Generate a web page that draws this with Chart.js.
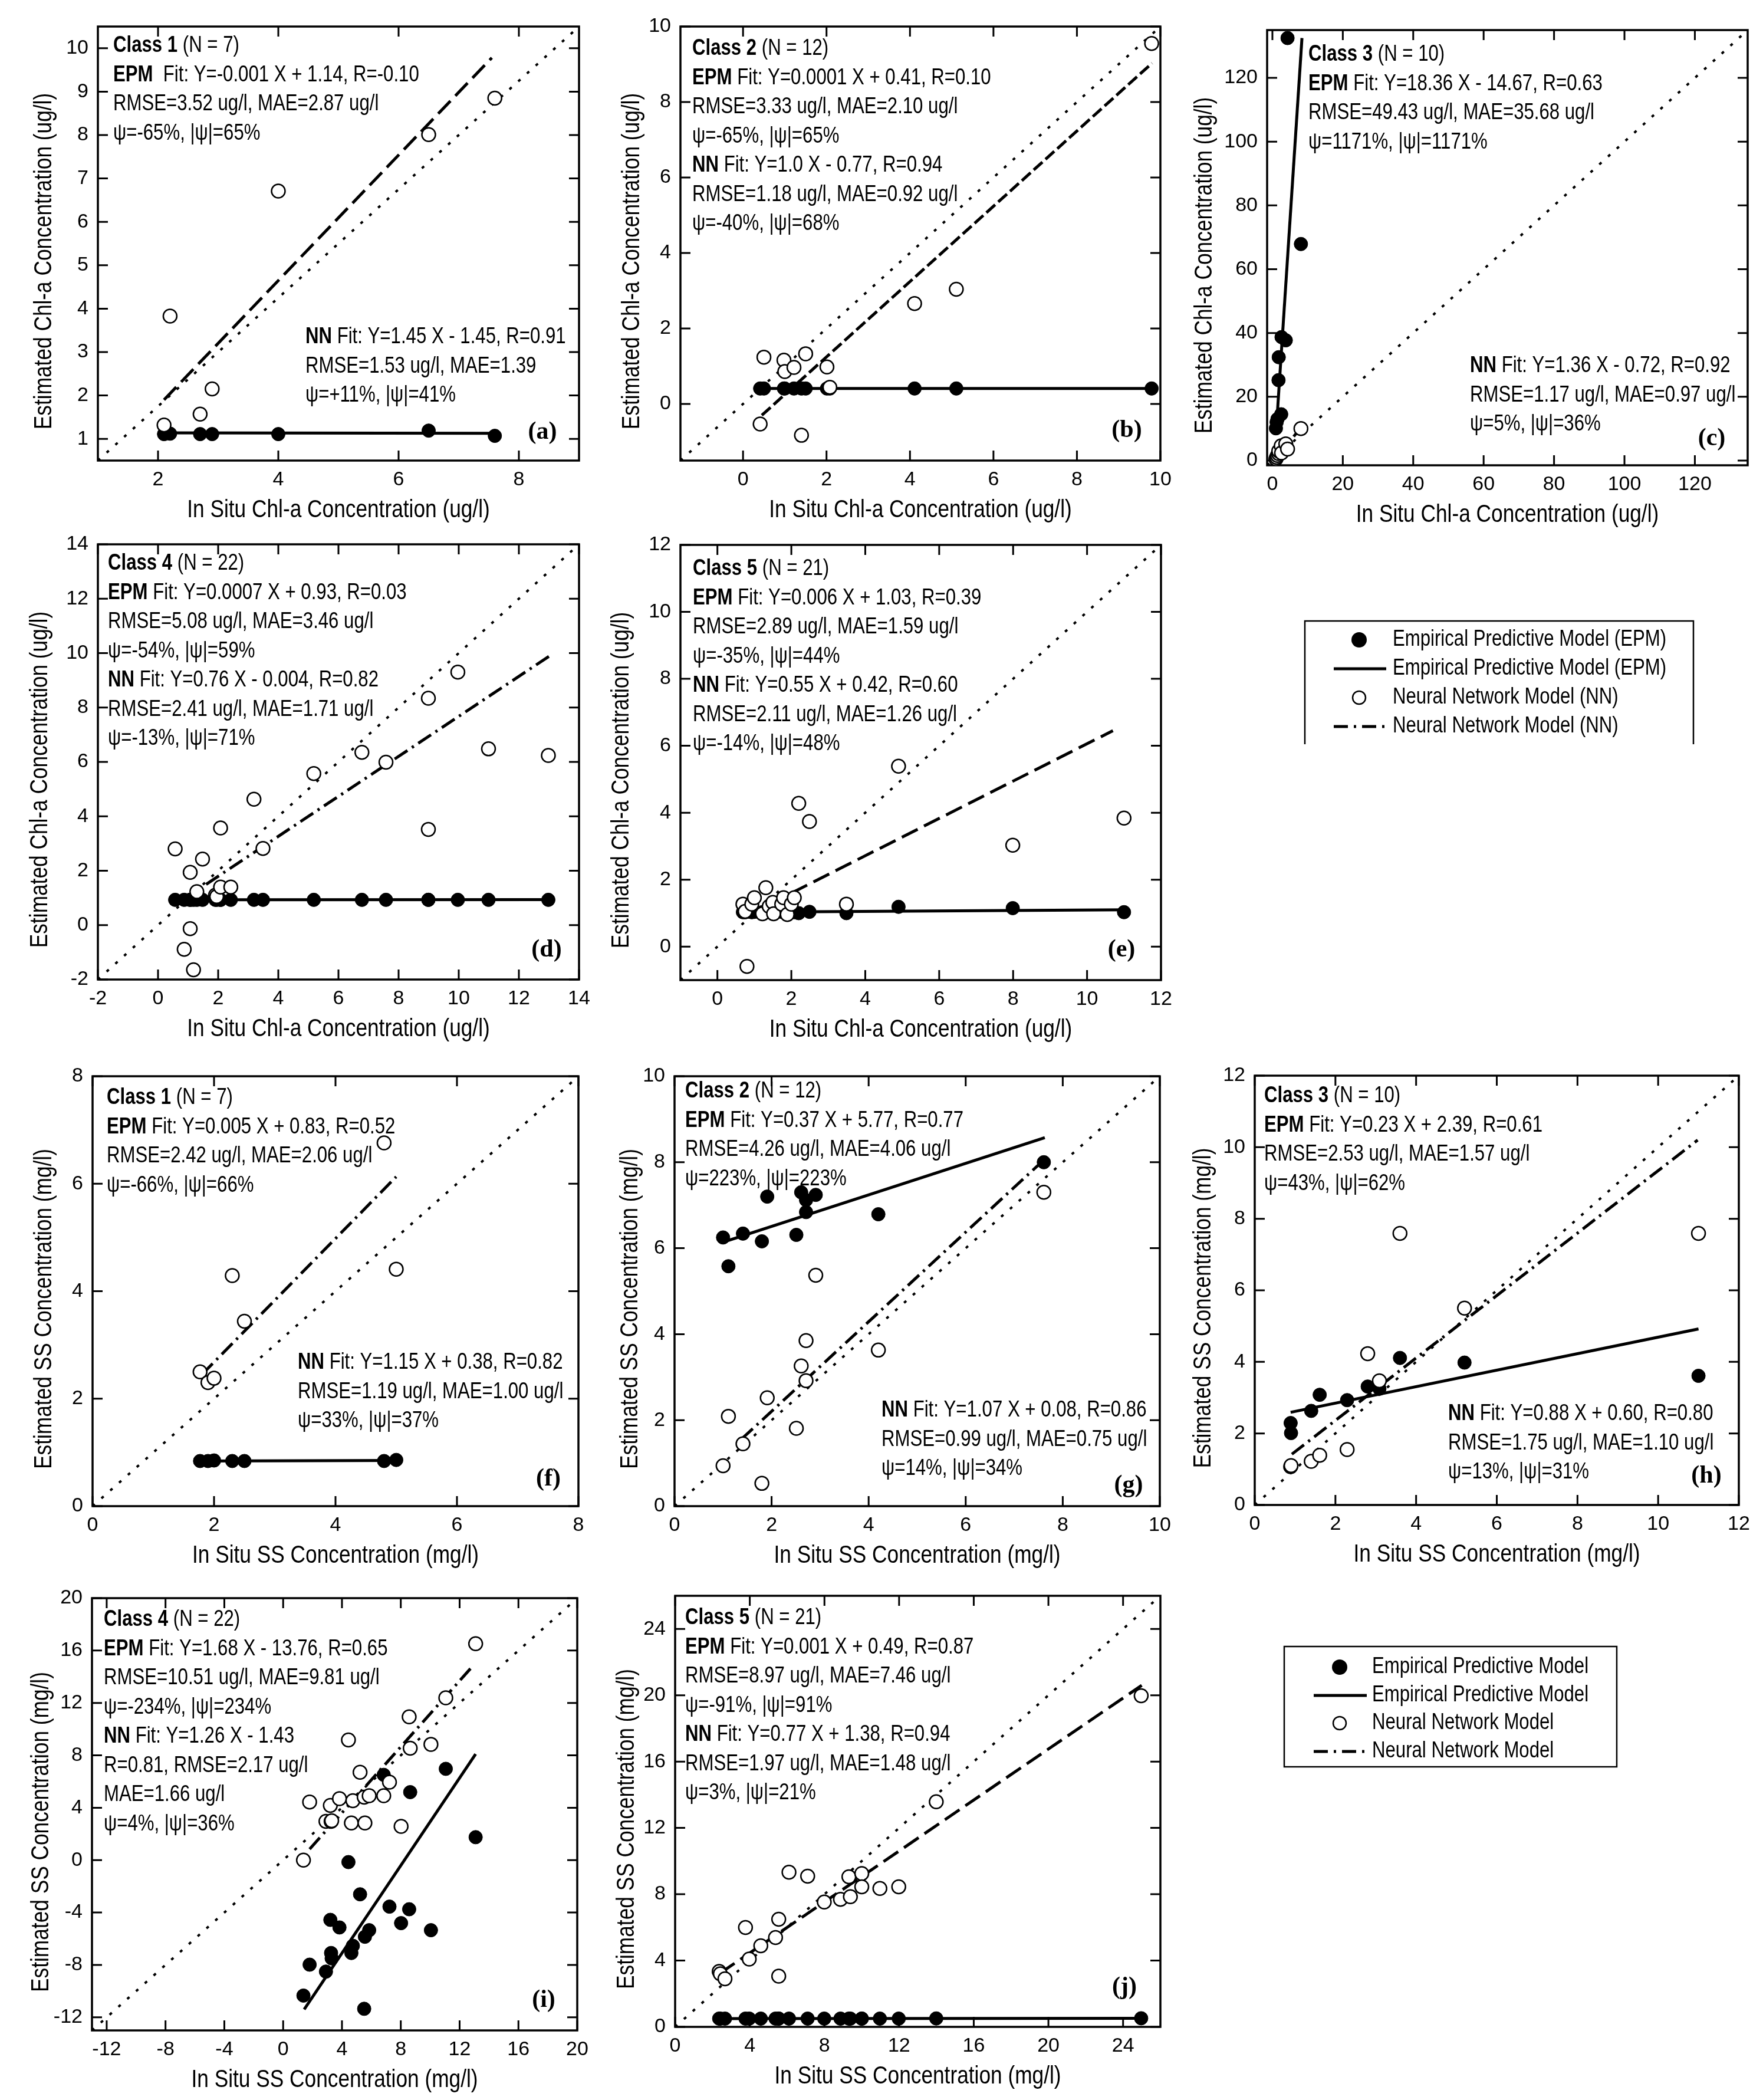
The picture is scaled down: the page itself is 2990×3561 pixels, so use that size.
<!DOCTYPE html>
<html>
<head>
<meta charset="utf-8">
<script src="https://cdn.jsdelivr.net/npm/chart.js@4.4.1/dist/chart.umd.min.js"></script>
<style>
html, body { margin: 0; padding: 0; background: #fff; }
body { width: 2990px; height: 3561px; position: relative; overflow: hidden; }
canvas { position: absolute; }
</style>
</head>
<body>
<script>
// ---- panel (a): Chl-a, class 1
const insituA = [2.1, 2.2, 2.7, 2.9, 4.0, 6.5, 7.6];
const epmA = [1.11, 1.12, 1.11, 1.11, 1.11, 1.19, 1.07];
const nnA = [1.32, 3.83, 1.57, 2.15, 6.71, 8.01, 8.85];
const epmFitA = [[2.1, 1.14], [7.6, 1.13]];
const nnFitA = [[2.1, 1.9], [7.55, 9.78]];
const xTicksA = [2, 4, 6, 8];
const yTicksA = [1, 2, 3, 4, 5, 6, 7, 8, 9, 10];

// ---- panel (b): Chl-a, class 2
const insituB = [0.41, 0.5, 0.98, 1.0, 1.22, 1.4, 1.5, 2.01, 2.08, 4.11, 5.11, 9.79];
const epmB = [0.41, 0.41, 0.41, 0.41, 0.41, 0.41, 0.41, 0.41, 0.41, 0.41, 0.41, 0.41];
const nnB = [-0.53, 1.24, 1.16, 0.86, 0.97, -0.83, 1.33, 0.98, 0.44, 2.66, 3.04, 9.55];
const epmFitB = [[0.41, 0.41], [9.8, 0.41]];
const nnFitB = [[0.45, -0.3], [9.8, 9.03]];
const ticksB = [0, 2, 4, 6, 8, 10];

// ---- panel (c): Chl-a, class 3
const insituC = [1.0, 1.2, 1.44, 1.74, 1.8, 2.5, 2.6, 3.8, 4.3, 8.1];
const epmC = [10.1, 12.0, 13.0, 25.2, 32.4, 14.5, 38.7, 37.7, 132.5, 67.9];
const nnC = [0.5, 1.0, 1.6, 2.2, 3.0, 4.6, 2.4, 5.2, 3.6, 10.0];
const epmFitC = [[1.0, 8.0], [8.4, 132.5]];
const nnFitC = [[1.0, 0.6], [8.0, 10.2]];
const ticksC = [0, 20, 40, 60, 80, 100, 120];

// ---- panel (d): Chl-a, class 4
const insituD = [0.57, 0.87, 1.07, 1.07, 1.18, 1.29, 1.48, 1.91, 1.95, 2.08, 2.08, 2.42, 3.19, 3.49, 5.18, 6.78, 7.58, 8.99, 8.99, 9.97, 10.99, 12.98];
const epmD = [0.93, 0.93, 0.93, 0.93, 0.93, 0.93, 0.93, 0.93, 0.93, 0.93, 0.93, 0.93, 0.93, 0.93, 0.93, 0.93, 0.93, 0.93, 0.93, 0.93, 0.93, 0.93];
const nnD = [2.8, -0.89, 1.94, -0.13, -1.64, 1.23, 2.43, 1.1, 1.05, 3.57, 1.4, 1.4, 4.63, 2.82, 5.57, 6.35, 5.99, 3.52, 8.34, 9.3, 6.48, 6.24];
const epmFitD = [[0.56, 0.93], [12.98, 0.94]];
const nnFitD = [[1.6, 1.5], [13.0, 9.88]];
const ticksD = [-2, 0, 2, 4, 6, 8, 10, 12, 14];

// ---- panel (e): Chl-a, class 5
const insituE = [0.69, 0.75, 0.8, 0.93, 1.0, 1.22, 1.31, 1.4, 1.5, 1.52, 1.74, 1.79, 1.89, 2.0, 2.08, 2.2, 2.49, 3.49, 4.9, 7.99, 11.0];
const epmE = [1.03, 1.03, 1.04, 1.03, 1.04, 1.03, 1.04, 1.03, 1.04, 1.03, 1.04, 1.03, 1.03, 1.04, 1.03, 1.0, 1.04, 1.0, 1.19, 1.15, 1.03];
const nnE = [1.27, 1.05, -0.59, 1.27, 1.46, 0.98, 1.76, 1.2, 1.32, 0.98, 1.27, 1.46, 0.96, 1.27, 1.46, 4.28, 3.74, 1.27, 5.39, 3.03, 3.84];
const epmFitE = [[0.69, 1.03], [11.0, 1.1]];
const nnFitE = [[2.0, 1.6], [10.7, 6.45]];
const ticksE = [0, 2, 4, 6, 8, 10, 12];

// ---- panel (f): SS, class 1
const insituF = [1.77, 1.9, 2.0, 2.3, 2.5, 4.8, 5.0];
const epmF = [0.84, 0.84, 0.85, 0.84, 0.84, 0.84, 0.86];
const nnF = [2.5, 2.3, 2.38, 4.29, 3.44, 6.76, 4.41];
const epmFitF = [[1.77, 0.84], [5.0, 0.85]];
const nnFitF = [[1.8, 2.45], [5.0, 6.13]];
const ticksF = [0, 2, 4, 6, 8];

// ---- panel (g): SS, class 2
const insituG = [1.0, 1.11, 1.41, 1.8, 1.91, 2.51, 2.61, 2.71, 2.71, 2.91, 4.2, 7.61];
const epmG = [6.25, 5.58, 6.34, 6.16, 7.2, 6.31, 7.3, 7.12, 6.84, 7.24, 6.79, 8.0];
const nnG = [0.94, 2.09, 1.45, 0.53, 2.52, 1.81, 3.26, 3.85, 2.92, 5.37, 3.63, 7.3];
const epmFitG = [[1.0, 6.14], [7.63, 8.57]];
const nnFitG = [[1.38, 1.56], [7.56, 8.0]];
const ticksG = [0, 2, 4, 6, 8, 10];

// ---- panel (h): SS, class 3
const insituH = [0.89, 0.9, 1.4, 1.61, 2.29, 2.8, 3.09, 3.6, 5.2, 11.0];
const epmH = [2.29, 2.01, 2.63, 3.08, 2.93, 3.31, 3.25, 4.11, 3.98, 3.61];
const nnH = [1.07, 1.1, 1.22, 1.39, 1.55, 4.23, 3.47, 7.59, 5.5, 7.59];
const epmFitH = [[0.89, 2.59], [11.0, 4.92]];
const nnFitH = [[0.92, 1.42], [10.98, 10.2]];
const ticksH = [0, 2, 4, 6, 8, 10, 12];

// ---- panel (i): SS, class 4
const insituI = [1.38, 1.8, 2.91, 3.21, 3.26, 3.3, 3.83, 4.44, 4.64, 4.74, 5.23, 5.51, 5.56, 5.85, 6.84, 7.23, 8.02, 8.57, 8.64, 10.05, 11.06, 13.09];
const epmI = [-10.34, -7.98, -8.51, -4.56, -7.09, -7.5, -5.14, -0.15, -7.09, -6.54, -2.61, -11.35, -5.85, -5.35, 6.51, -3.55, -4.81, -3.75, 5.19, -5.35, 6.97, 1.75];
const nnI = [0.0, 4.43, 2.96, 4.18, 2.96, 3.0, 4.69, 9.17, 2.84, 4.54, 6.71, 4.81, 2.84, 4.92, 4.92, 5.95, 2.58, 10.94, 8.54, 8.84, 12.39, 16.52];
const epmFitI = [[1.43, -11.4], [13.09, 8.1]];
const nnFitI = [[1.8, 0.84], [12.96, 14.9]];
const ticksI = [-12, -8, -4, 0, 4, 8, 12, 16, 20];

// ---- panel (j): SS, class 5
const insituJ = [2.36, 2.42, 2.67, 3.77, 3.97, 4.59, 5.38, 5.55, 5.55, 6.1, 7.1, 7.99, 8.86, 9.31, 9.39, 10.0, 10.0, 10.97, 11.98, 13.99, 24.97];
const epmJ = [0.5, 0.5, 0.5, 0.5, 0.5, 0.5, 0.5, 0.5, 0.5, 0.5, 0.5, 0.5, 0.5, 0.5, 0.5, 0.5, 0.5, 0.5, 0.5, 0.51, 0.52];
const nnJ = [3.34, 3.2, 2.9, 5.99, 4.09, 4.89, 5.39, 6.49, 3.06, 9.33, 9.09, 7.53, 7.69, 9.05, 7.85, 9.25, 8.45, 8.35, 8.45, 13.58, 19.97];
const epmFitJ = [[2.36, 0.5], [24.97, 0.52]];
const nnFitJ = [[2.4, 3.23], [25.0, 20.6]];
const ticksJ = [0, 4, 8, 12, 16, 20, 24];

const CHL_X = 'In Situ Chl-a Concentration (ug/l)';
const CHL_Y = 'Estimated Chl-a Concentration (ug/l)';
const SS_X = 'In Situ SS Concentration (mg/l)';
const SS_Y = 'Estimated SS Concentration (mg/l)';

// font: narrow face if present, otherwise squeeze the regular one
function fontExists(name) {
  const c = document.createElement('canvas').getContext('2d');
  const probe = 'mmmmmmmmmmlliiWW0123456789';
  c.font = '40px monospace';
  const a = c.measureText(probe).width;
  c.font = '40px "' + name + '", monospace';
  return c.measureText(probe).width !== a;
}
const NARROW = fontExists('Liberation Sans Narrow');
const FAMILY = NARROW ? '"Liberation Sans Narrow", "Liberation Sans", sans-serif' : '"Liberation Sans", Arial, sans-serif';
const SQUEEZE = NARROW ? 1 : 0.82;
const TICK_SIZE = NARROW ? 38 : 34;

const ML = 150, MR = 45, MT = 45, MB = 135;
const LS = 49.5, TICK = 17, R = 11.5;
const LONG = [30, 12], DASH = [20, 7], DASHDOT = [26, 9, 4, 9], DOTS = [5, 15];

const panels = [
  { tag: '(a)', box: [166, 45, 982, 781], x: [1, 9], y: [0.5, 10.5], xt: xTicksA, yt: yTicksA,
    insitu: insituA, epm: epmA, nn: nnA, epmFit: epmFitA, nnFit: nnFitA, dash: LONG,
    xTitle: CHL_X, yTitle: CHL_Y, yOff: 91, tagPos: [920, 733],
    text: [{ x: 192, y: 78, lines: ['**Class 1** (N = 7)', '**EPM**  Fit: Y=-0.001 X + 1.14, R=-0.10', 'RMSE=3.52 ug/l, MAE=2.87 ug/l', 'ψ=-65%, |ψ|=65%'] },
           { x: 518, y: 572, lines: ['**NN** Fit: Y=1.45 X - 1.45, R=0.91', 'RMSE=1.53 ug/l, MAE=1.39', 'ψ=+11%, |ψ|=41%'] }] },
  { tag: '(b)', box: [1154, 45, 1968, 781], x: [-1.5, 10], y: [-1.5, 10], xt: ticksB, yt: ticksB,
    insitu: insituB, epm: epmB, nn: nnB, epmFit: epmFitB, nnFit: nnFitB, dash: DASH,
    xTitle: CHL_X, yTitle: CHL_Y, yOff: 82, tagPos: [1911, 730],
    text: [{ x: 1174, y: 83, lines: ['**Class 2** (N = 12)', '**EPM** Fit: Y=0.0001 X + 0.41, R=0.10', 'RMSE=3.33 ug/l, MAE=2.10 ug/l', 'ψ=-65%, |ψ|=65%',
      '**NN** Fit: Y=1.0 X - 0.77, R=0.94', 'RMSE=1.18 ug/l, MAE=0.92 ug/l', 'ψ=-40%, |ψ|=68%'] }] },
  { tag: '(c)', box: [2149, 51, 2964, 789], x: [-1.5, 135], y: [-1.5, 135], xt: ticksC, yt: ticksC,
    insitu: insituC, epm: epmC, nn: nnC, epmFit: epmFitC, nnFit: nnFitC, dash: DASHDOT,
    xTitle: CHL_X, yTitle: CHL_Y, yOff: 106, tagPos: [2903, 744],
    text: [{ x: 2219, y: 93, lines: ['**Class 3** (N = 10)', '**EPM** Fit: Y=18.36 X - 14.67, R=0.63', 'RMSE=49.43 ug/l, MAE=35.68 ug/l', 'ψ=1171%, |ψ|=1171%'] },
           { x: 2493, y: 621, lines: ['**NN** Fit: Y=1.36 X - 0.72, R=0.92', 'RMSE=1.17 ug/l, MAE=0.97 ug/l', 'ψ=5%, |ψ|=36%'] }] },
  { tag: '(d)', box: [166, 923, 982, 1661], x: [-2, 14], y: [-2, 14], xt: ticksD, yt: ticksD,
    insitu: insituD, epm: epmD, nn: nnD, epmFit: epmFitD, nnFit: nnFitD, dash: DASHDOT,
    xTitle: CHL_X, yTitle: CHL_Y, yOff: 98, tagPos: [927, 1611],
    text: [{ x: 183, y: 956, lines: ['**Class 4** (N = 22)', '**EPM** Fit: Y=0.0007 X + 0.93, R=0.03', 'RMSE=5.08 ug/l, MAE=3.46 ug/l', 'ψ=-54%, |ψ|=59%',
      '**NN** Fit: Y=0.76 X - 0.004, R=0.82', 'RMSE=2.41 ug/l, MAE=1.71 ug/l', 'ψ=-13%, |ψ|=71%'] }] },
  { tag: '(e)', box: [1154, 924, 1969, 1662], x: [-1, 12], y: [-1, 12], xt: ticksE, yt: ticksE,
    insitu: insituE, epm: epmE, nn: nnE, epmFit: epmFitE, nnFit: nnFitE, dash: LONG,
    xTitle: CHL_X, yTitle: CHL_Y, yOff: 100, tagPos: [1902, 1611],
    text: [{ x: 1175, y: 965, lines: ['**Class 5** (N = 21)', '**EPM** Fit: Y=0.006 X + 1.03, R=0.39', 'RMSE=2.89 ug/l, MAE=1.59 ug/l', 'ψ=-35%, |ψ|=44%',
      '**NN** Fit: Y=0.55 X + 0.42, R=0.60', 'RMSE=2.11 ug/l, MAE=1.26 ug/l', 'ψ=-14%, |ψ|=48%'] }] },
  { tag: '(f)', box: [157, 1825, 981, 2554], x: [0, 8], y: [0, 8], xt: ticksF, yt: ticksF,
    insitu: insituF, epm: epmF, nn: nnF, epmFit: epmFitF, nnFit: nnFitF, dash: DASHDOT,
    xTitle: SS_X, yTitle: SS_Y, yOff: 82, tagPos: [930, 2508],
    text: [{ x: 181, y: 1862, lines: ['**Class 1** (N = 7)', '**EPM** Fit: Y=0.005 X + 0.83, R=0.52', 'RMSE=2.42 ug/l, MAE=2.06 ug/l', 'ψ=-66%, |ψ|=66%'] },
           { x: 505, y: 2311, lines: ['**NN** Fit: Y=1.15 X + 0.38, R=0.82', 'RMSE=1.19 ug/l, MAE=1.00 ug/l', 'ψ=33%, |ψ|=37%'] }] },
  { tag: '(g)', box: [1144, 1825, 1967, 2554], x: [0, 10], y: [0, 10], xt: ticksG, yt: ticksG,
    insitu: insituG, epm: epmG, nn: nnG, epmFit: epmFitG, nnFit: nnFitG, dash: DASHDOT,
    xTitle: SS_X, yTitle: SS_Y, yOff: 75, tagPos: [1914, 2519],
    text: [{ x: 1162, y: 1851, lines: ['**Class 2** (N = 12)', '**EPM** Fit: Y=0.37 X + 5.77, R=0.77', 'RMSE=4.26 ug/l, MAE=4.06 ug/l', 'ψ=223%, |ψ|=223%'] },
           { x: 1495, y: 2392, lines: ['**NN** Fit: Y=1.07 X + 0.08, R=0.86', 'RMSE=0.99 ug/l, MAE=0.75 ug/l', 'ψ=14%, |ψ|=34%'] }] },
  { tag: '(h)', box: [2128, 1824, 2949, 2552], x: [0, 12], y: [0, 12], xt: ticksH, yt: ticksH,
    insitu: insituH, epm: epmH, nn: nnH, epmFit: epmFitH, nnFit: nnFitH, dash: DASHDOT,
    xTitle: SS_X, yTitle: SS_Y, yOff: 87, tagPos: [2894, 2503],
    text: [{ x: 2144, y: 1859, lines: ['**Class 3** (N = 10)', '**EPM** Fit: Y=0.23 X + 2.39, R=0.61', 'RMSE=2.53 ug/l, MAE=1.57 ug/l', 'ψ=43%, |ψ|=62%'] },
           { x: 2456, y: 2398, lines: ['**NN** Fit: Y=0.88 X + 0.60, R=0.80', 'RMSE=1.75 ug/l, MAE=1.10 ug/l', 'ψ=13%, |ψ|=31%'] }] },
  { tag: '(i)', box: [156, 2710, 979, 3443], x: [-13, 20], y: [-13, 20], xt: ticksI, yt: ticksI,
    insitu: insituI, epm: epmI, nn: nnI, epmFit: epmFitI, nnFit: nnFitI, dash: DASHDOT,
    xTitle: SS_X, yTitle: SS_Y, yOff: 86, tagPos: [922, 3392],
    text: [{ x: 176, y: 2747, lines: ['**Class 4** (N = 22)', '**EPM** Fit: Y=1.68 X - 13.76, R=0.65', 'RMSE=10.51 ug/l, MAE=9.81 ug/l', 'ψ=-234%, |ψ|=234%',
      '**NN** Fit: Y=1.26 X - 1.43', 'R=0.81, RMSE=2.17 ug/l', 'MAE=1.66 ug/l', 'ψ=4%, |ψ|=36%'] }] },
  { tag: '(j)', box: [1145, 2706, 1968, 3437], x: [0, 26], y: [0, 26], xt: ticksJ, yt: ticksJ,
    insitu: insituJ, epm: epmJ, nn: nnJ, epmFit: epmFitJ, nnFit: nnFitJ, dash: LONG,
    xTitle: SS_X, yTitle: SS_Y, yOff: 82, tagPos: [1907, 3370],
    text: [{ x: 1162, y: 2744, lines: ['**Class 5** (N = 21)', '**EPM** Fit: Y=0.001 X + 0.49, R=0.87', 'RMSE=8.97 ug/l, MAE=7.46 ug/l', 'ψ=-91%, |ψ|=91%',
      '**NN** Fit: Y=0.77 X + 1.38, R=0.94', 'RMSE=1.97 ug/l, MAE=1.48 ug/l', 'ψ=3%, |ψ|=21%'] }] }
];

// text helpers (the source figure uses a condensed sans)
function drawRich(ctx, line, x, y, size) {
  const parts = line.split('**');
  ctx.save();
  ctx.translate(x, y);
  ctx.scale(SQUEEZE, 1);
  ctx.fillStyle = '#000';
  ctx.textBaseline = 'middle';
  ctx.textAlign = 'left';
  let cx = 0;
  parts.forEach((s, i) => {
    if (!s) return;
    ctx.font = (i % 2 ? 'bold ' : '') + size + 'px ' + FAMILY;
    ctx.fillText(s, cx, 0);
    cx += ctx.measureText(s).width;
  });
  ctx.restore();
}

function drawCentered(ctx, str, x, y, size, angle) {
  ctx.save();
  ctx.translate(x, y);
  ctx.rotate(angle);
  ctx.scale(SQUEEZE, 1);
  ctx.fillStyle = '#000';
  ctx.font = size + 'px ' + FAMILY;
  ctx.textAlign = 'center';
  ctx.textBaseline = 'middle';
  ctx.fillText(str, 0, 0);
  ctx.restore();
}

function framePlugin(p) {
  return {
    id: 'frame',
    beforeDatasetsDraw(chart) {
      const { ctx, chartArea: a, scales } = chart;
      ctx.save();
      ctx.strokeStyle = '#000';
      ctx.lineWidth = 3.5;
      ctx.strokeRect(a.left, a.top, a.right - a.left, a.bottom - a.top);
      ctx.lineWidth = 3;
      ctx.beginPath();
      scales.x.ticks.forEach(t => {
        const px = scales.x.getPixelForValue(t.value);
        ctx.moveTo(px, a.bottom); ctx.lineTo(px, a.bottom - TICK);
        ctx.moveTo(px, a.top); ctx.lineTo(px, a.top + TICK);
      });
      scales.y.ticks.forEach(t => {
        const py = scales.y.getPixelForValue(t.value);
        ctx.moveTo(a.left, py); ctx.lineTo(a.left + TICK, py);
        ctx.moveTo(a.right, py); ctx.lineTo(a.right - TICK, py);
      });
      ctx.stroke();
      ctx.restore();
    },
    afterDatasetsDraw(chart) {
      const { ctx, chartArea: a } = chart;
      const ox = p.box[0] - ML, oy = p.box[1] - MT;
      p.text.forEach(b => b.lines.forEach((ln, i) => drawRich(ctx, ln, b.x - ox, b.y - oy + i * LS, 38)));
      drawCentered(ctx, p.xTitle, (a.left + a.right) / 2, a.bottom + 84, 43, 0);
      drawCentered(ctx, p.yTitle, a.left - p.yOff, (a.top + a.bottom) / 2 + 30, 43, -Math.PI / 2);
      ctx.save();
      ctx.fillStyle = '#000';
      ctx.font = 'bold 42px "Liberation Serif", "Times New Roman", serif';
      ctx.textAlign = 'center';
      ctx.textBaseline = 'middle';
      ctx.fillText(p.tag, p.tagPos[0] - ox, p.tagPos[1] - oy);
      ctx.restore();
    }
  };
}

const toPoints = (xs, ys) => xs.map((v, i) => ({ x: v, y: ys[i] }));
const toSegment = seg => seg.map(q => ({ x: q[0], y: q[1] }));

function axis(range, ticks, isX) {
  return {
    type: 'linear',
    position: isX ? 'bottom' : 'left',
    min: range[0],
    max: range[1],
    bounds: 'data',
    grid: { display: false, drawTicks: false },
    border: { display: false },
    ticks: {
      color: '#000',
      font: { family: FAMILY, size: TICK_SIZE },
      padding: isX ? 12 : 16,
      autoSkip: false,
      maxRotation: 0,
      callback: v => String(v)
    },
    afterBuildTicks: s => { s.ticks = ticks.map(v => ({ value: v })); },
    afterFit: s => { if (isX) s.height = MB; else s.width = ML; }
  };
}

panels.forEach(p => {
  const [L, T, Rt, B] = p.box;
  const cv = document.createElement('canvas');
  const w = Rt - L + ML + MR, h = B - T + MT + MB;
  cv.width = w; cv.height = h;
  cv.style.left = (L - ML) + 'px';
  cv.style.top = (T - MT) + 'px';
  cv.style.width = w + 'px';
  cv.style.height = h + 'px';
  document.body.appendChild(cv);

  new Chart(cv, {
    type: 'scatter',
    data: {
      datasets: [
        { label: 'NN', data: toPoints(p.insitu, p.nn), pointRadius: R, pointHoverRadius: R,
          pointBackgroundColor: '#fff', pointBorderColor: '#000', pointBorderWidth: 2.5 },
        { label: 'EPM', data: toPoints(p.insitu, p.epm), pointRadius: R, pointHoverRadius: R,
          pointBackgroundColor: '#000', pointBorderColor: '#000', pointBorderWidth: 1 },
        { label: 'NN fit', data: toSegment(p.nnFit), showLine: true, pointRadius: 0,
          borderColor: '#000', borderWidth: 5, borderDash: p.dash },
        { label: 'EPM fit', data: toSegment(p.epmFit), showLine: true, pointRadius: 0,
          borderColor: '#000', borderWidth: 5 },
        { label: '1:1', data: [{ x: p.x[0], y: p.y[0] }, { x: p.x[1], y: p.y[1] }], showLine: true, pointRadius: 0,
          borderColor: '#000', borderWidth: 4, borderDash: DOTS }
      ]
    },
    options: {
      responsive: false,
      animation: false,
      devicePixelRatio: 1,
      events: [],
      layout: { padding: { left: 0, top: MT, right: MR, bottom: 0 } },
      plugins: { legend: { display: false }, tooltip: { enabled: false } },
      scales: { x: axis(p.x, p.xt, true), y: axis(p.y, p.yt, false) }
    },
    plugins: [framePlugin(p)]
  });
});

// ---- the two free-standing legend boxes
const legendChl = ['Empirical Predictive Model (EPM)', 'Empirical Predictive Model (EPM)', 'Neural Network Model (NN)', 'Neural Network Model (NN)'];
const legendSS = ['Empirical Predictive Model', 'Empirical Predictive Model', 'Neural Network Model', 'Neural Network Model'];

function drawLegend(labels, box, rows, symX, lineX, textX, closed) {
  const pad = 15;
  const cv = document.createElement('canvas');
  const w = box[2] - box[0] + 2 * pad, h = box[3] - box[1] + 2 * pad;
  cv.width = w; cv.height = h;
  cv.style.left = (box[0] - pad) + 'px';
  cv.style.top = (box[1] - pad) + 'px';
  document.body.appendChild(cv);
  const ctx = cv.getContext('2d');
  const ox = box[0] - pad, oy = box[1] - pad;
  ctx.strokeStyle = '#000';
  ctx.fillStyle = '#000';
  ctx.lineWidth = 2.5;
  ctx.beginPath();
  ctx.moveTo(box[0] - ox, box[3] - oy);
  ctx.lineTo(box[0] - ox, box[1] - oy);
  ctx.lineTo(box[2] - ox, box[1] - oy);
  ctx.lineTo(box[2] - ox, box[3] - oy);
  if (closed) ctx.closePath();
  ctx.stroke();

  // filled dot
  ctx.beginPath();
  ctx.arc(symX - ox, rows[0] - oy, 13, 0, Math.PI * 2);
  ctx.fill();
  // solid line
  ctx.lineWidth = 5;
  ctx.beginPath();
  ctx.moveTo(lineX[0] - ox, rows[1] - oy);
  ctx.lineTo(lineX[1] - ox, rows[1] - oy);
  ctx.stroke();
  // open circle
  ctx.lineWidth = 2.5;
  ctx.beginPath();
  ctx.arc(symX - ox, rows[2] - oy, 11, 0, Math.PI * 2);
  ctx.stroke();
  // dash-dot line
  ctx.lineWidth = 5;
  ctx.setLineDash([24, 10, 4, 10]);
  ctx.beginPath();
  ctx.moveTo(lineX[0] - ox, rows[3] - oy);
  ctx.lineTo(lineX[1] - ox, rows[3] - oy);
  ctx.stroke();
  ctx.setLineDash([]);

  labels.forEach((t, i) => drawRich(ctx, t, textX - ox, rows[i] - oy, 38));
}

drawLegend(legendChl, [2213, 1053, 2872, 1262], [1085, 1134, 1183, 1232], 2305, [2262, 2351], 2362, false);
drawLegend(legendSS, [2178, 2792, 2742, 2996], [2827, 2875, 2922, 2970], 2272, [2228, 2318], 2327, true);
</script>
</body>
</html>
